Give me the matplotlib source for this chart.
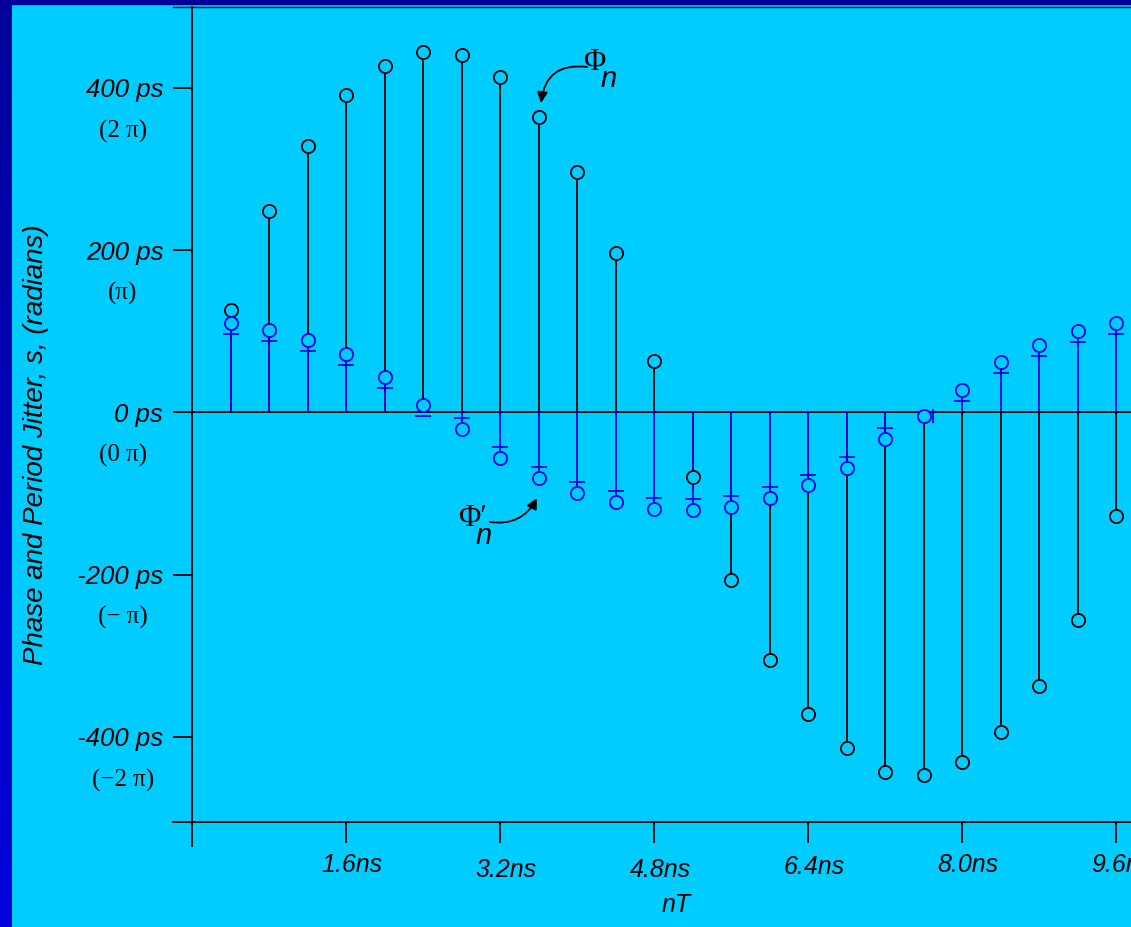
import matplotlib.pyplot as plt
import matplotlib.transforms as mtransforms
from matplotlib.colors import LinearSegmentedColormap
import numpy as np

# sample index n, sample spacing T = 0.4 ns
n = np.arange(1, 25)
T = 0.4
t = n * T

# phase jitter Phi_n (ps)
phi = [126, 248, 328, 391, 427, 444, 441, 414, 364, 296, 196, 64,
       -79, -207, -305, -372, -414, -443, -447, -431, -394, -337, -256, -127]
# period jitter Phi'_n (ps)
phi_p = [110, 102, 89, 72, 44, 9, -20, -56, -81, -99, -110, -119,
         -120, -116, -105, -90, -68, -33, -4, 28, 62, 83, 100, 110]

yticks = [400, 200, 0, -200, -400]
ytick_ps = ['400 ps', '200 ps', '0 ps', '-200 ps', '-400 ps']
ytick_rad = ['(2 \u03c0)', '(\u03c0)', '(0 \u03c0)', '(\u2212 \u03c0)', '(\u22122 \u03c0)']
xticks = [1.6, 3.2, 4.8, 6.4, 8.0, 9.6]
xtick_labels = ['1.6ns', '3.2ns', '4.8ns', '6.4ns', '8.0ns', '9.6ns']

BG = '#00CCFF'
BLUE = '#0000EE'
SANS = 'Liberation Sans'
SERIF = 'Liberation Serif'

fig = plt.figure(figsize=(11.31, 9.27), dpi=100, facecolor=BG)

# slide border: dark gradient strip on the left, band across the top
strip = fig.add_axes([0, 0, 11 / 1131, 1])
grad = np.linspace(0, 1, 256).reshape(-1, 1)
cm_strip = LinearSegmentedColormap.from_list('strip', ['#0000DD', '#000099'])
strip.imshow(grad, aspect='auto', cmap=cm_strip, origin='lower', extent=[0, 1, 0, 1])
strip.axis('off')
fig.patches.append(plt.Rectangle((0, 1 - 4 / 927), 1, 4 / 927, transform=fig.transFigure,
                                 color='#000099', zorder=5))

ax = fig.add_axes([192 / 1131, 105 / 927, 939 / 1131, 815 / 927])
ax.set_facecolor(BG)
ax.set_xlim(0, 939 / 96.25)
ax.set_ylim(-504.8, 499.8)
for s in ax.spines.values():
    s.set_visible(False)

# frame lines drawn by hand so they can run past the corner
lk = dict(color='black', lw=1.3, clip_on=False, transform=ax.transAxes)
ax.plot([0, 0], [-24 / 815, 1], **lk)
ax.plot([-19 / 939, 1], [0, 0], **lk)
ax.plot([-19 / 939, 1], [1, 1], color='black', lw=1.0, clip_on=False, transform=ax.transAxes)
ax.axhline(0, color='black', lw=1.3, zorder=2)

# stems
ax.vlines(t, 0, phi, color='black', lw=1.3, zorder=3)
ax.vlines(t, 0, phi_p, color=BLUE, lw=1.3, zorder=4)
ax.plot(t, phi, 'o', ms=9.5, mfc=BG, mec='black', mew=1.3, ls='none', zorder=5)

# cross bar on each period-jitter stem, just inside the circle
phi_p_arr = np.array(phi_p, dtype=float)
bar_off = 13.5
small = np.abs(phi_p_arr) < 5
bar_y = phi_p_arr - np.sign(phi_p_arr) * bar_off
ax.plot(t[~small], bar_y[~small], '_', ms=11, mec=BLUE, mew=1.3, ls='none', zorder=6)
ax.plot(t[small] + 0.1, phi_p_arr[small], '|', ms=10, mec=BLUE, mew=1.3, ls='none', zorder=6)
ax.plot(t, phi_p, 'o', ms=9.5, mfc=BG, mec=BLUE, mew=1.3, ls='none', zorder=7)

# ticks
ax.set_yticks(yticks)
ax.set_yticklabels(ytick_ps, fontfamily=SANS, fontstyle='italic', fontsize=18.5)
ax.set_xticks(xticks)
ax.set_xticklabels(xtick_labels, fontfamily=SANS, fontstyle='italic', fontsize=18)
ax.tick_params(axis='y', direction='out', length=13.7, width=1.3, pad=7)
ax.tick_params(axis='x', direction='out', length=15, width=1.3, pad=7)

# x labels sit a little right of their ticks, with a slight stagger
x_dy = [0, -5, -5, -2, 0, 0]
for lab, dy in zip(ax.get_xticklabels(), x_dy):
    lab.set_transform(lab.get_transform() +
                      mtransforms.ScaledTranslation(6 / 100, dy / 100, fig.dpi_scale_trans))

# radian equivalents under each ps label
blend = mtransforms.blended_transform_factory(ax.transAxes, ax.transData)
below = mtransforms.offset_copy(blend, fig=fig, x=0, y=-43, units='dots')
for yv, lab in zip(yticks, ytick_rad):
    ax.text(-69 / 939, yv, lab, transform=below, ha='center', va='center',
            fontfamily=SERIF, fontsize=18)

fig.text(36 / 1131, 1 - 445 / 927, 'Phase and Period Jitter, s, (radians)', rotation=90,
         ha='center', va='center', fontfamily=SANS, fontstyle='italic', fontsize=20)
fig.text(676 / 1131, 1 - 905 / 927, 'nT', ha='center', va='center',
         fontfamily=SANS, fontstyle='italic', fontsize=18)

# series callouts
arrow = dict(arrowstyle='-|>', color='black', lw=1.3, mutation_scale=16, shrinkA=0, shrinkB=0)
ax.annotate('', xy=(3.626, 381.5), xytext=(4.104, 425.9),
            arrowprops=dict(connectionstyle='arc3,rad=0.5', **arrow))
ax.text(4.175, 432, '\u03a6', ha='center', va='center', fontfamily=SERIF, fontsize=22)
ax.text(4.33, 411, 'n', ha='center', va='center', fontfamily=SANS,
        fontstyle='italic', fontsize=21)

ax.annotate('', xy=(3.584, -105.4), xytext=(3.096, -135.0),
            arrowprops=dict(connectionstyle='arc3,rad=0.35', **arrow))
ax.text(2.92, -131.0, '\u03a6\u2032', ha='center', va='center', fontfamily=SERIF, fontsize=22)
ax.text(3.03, -152.0, 'n', ha='center', va='center', fontfamily=SANS,
        fontstyle='italic', fontsize=21)

fig.savefig('out.png', dpi=100, facecolor=BG)
